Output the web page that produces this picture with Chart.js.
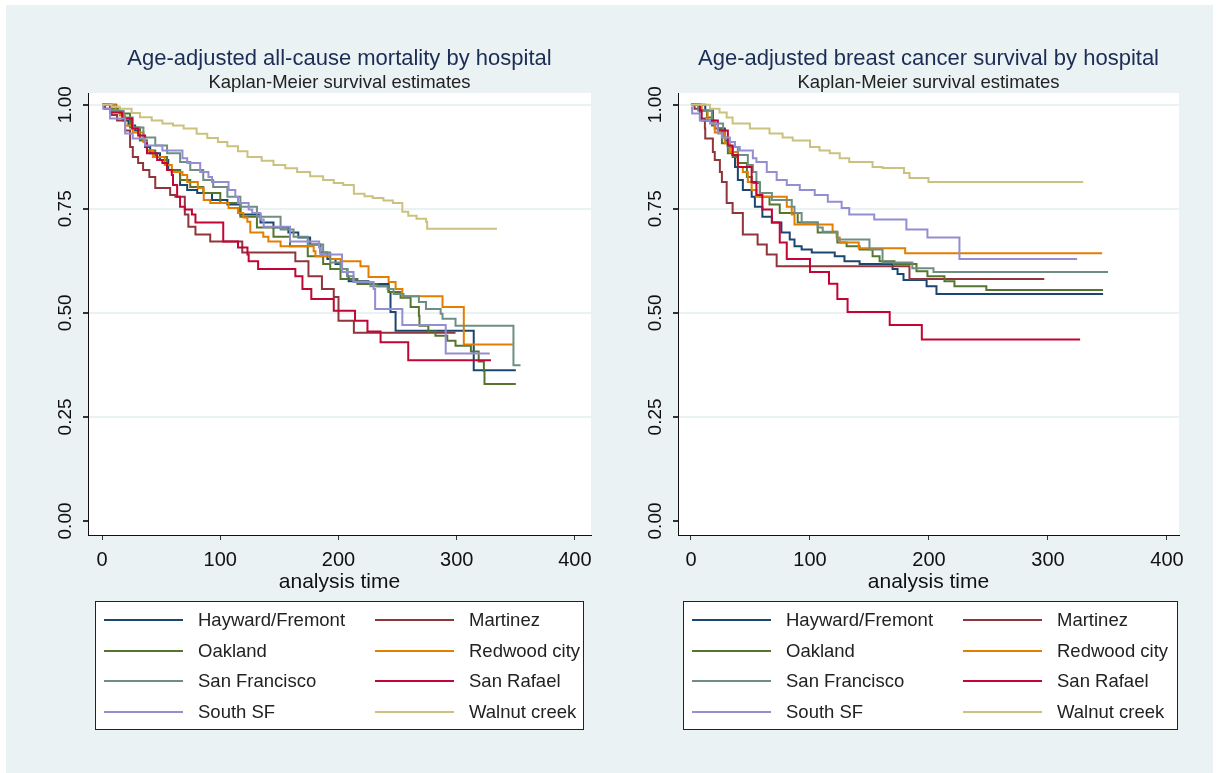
<!DOCTYPE html>
<html>
<head>
<meta charset="utf-8">
<script src="https://cdn.jsdelivr.net/npm/chart.js@4.4.1/dist/chart.umd.min.js"></script>
<style>
  body { margin: 0; background: #ffffff; }
  #bg { position: absolute; left: 6px; top: 5px; width: 1207px; height: 768px; background: #eaf2f3; }
  canvas { position: absolute; top: 5px; }
  #left { left: 6px; }
  #right { left: 611px; }
</style>
</head>
<body>
<div id="bg"></div>
<canvas id="left" width="605" height="768"></canvas>
<canvas id="right" width="602" height="768"></canvas>
<script>
'use strict';

// hospitals, in legend order (row by row, two columns)
const hospitals = ['Hayward/Fremont', 'Martinez', 'Oakland', 'Redwood city',
    'San Francisco', 'San Rafael', 'South SF', 'Walnut creek'];
const hospitalColors = ['#1a476f', '#90353b', '#55752f', '#e37e00',
    '#6e8e84', '#c10534', '#938dd2', '#cac27e'];

const xTicks = [0, 100, 200, 300, 400];
const yTicks = [0, 0.25, 0.5, 0.75, 1];

// all-cause mortality, [analysis time, survival]
const mortHayward = [[0,1],[12,0.985],[18,0.962],[22.3,0.95],[28,0.938],[32,0.918],[36.4,0.898],[40.7,0.883],[49,0.867],[56,0.843],[66,0.807],[72,0.795],[80.5,0.788],[93,0.771],[106,0.76],[117,0.736],[134,0.717],[145,0.705],[157.6,0.693],[166,0.681],[176,0.664],[184.7,0.645],[190.6,0.629],[197.5,0.617],[203,0.605],[207.5,0.588],[208.6,0.576],[225.4,0.569],[242.4,0.55],[244,0.502],[248.3,0.457],[314.4,0.362],[350,0.362]];
const mortMartinez = [[0,1],[2.5,0.99],[8,0.975],[12.7,0.962],[19.5,0.938],[23.7,0.898],[26,0.874],[30.5,0.86],[34.7,0.843],[40,0.826],[45,0.8],[57.6,0.783],[62,0.779],[70,0.736],[73,0.707],[79,0.688],[91.5,0.671],[118.6,0.645],[163.5,0.624],[174.6,0.588],[186,0.557],[196,0.538],[200,0.481],[213,0.452],[299,0.452]];
const mortOakland = [[0,1],[8,0.99],[15,0.979],[23.7,0.945],[32,0.914],[38,0.89],[45,0.874],[55,0.843],[66,0.819],[74.6,0.802],[85.6,0.788],[100,0.764],[117,0.731],[131,0.705],[145,0.683],[159,0.66],[174,0.636],[187,0.617],[193,0.605],[201.7,0.581],[216,0.569],[233,0.564],[242.4,0.55],[252.5,0.536],[261,0.514],[268,0.493],[268.5,0.469],[276,0.455],[282,0.445],[292,0.433],[299,0.421],[312,0.407],[318.6,0.383],[323,0.36],[323.5,0.329],[350,0.329]];
const mortRedwood = [[0,1],[11,1],[11.5,0.986],[15,0.974],[19.5,0.95],[26,0.933],[35,0.91],[38,0.89],[43,0.874],[53,0.855],[59,0.838],[68,0.831],[72,0.814],[81,0.8],[86,0.771],[91.5,0.764],[107,0.752],[115,0.74],[119.5,0.729],[122.9,0.719],[125.4,0.693],[136.4,0.683],[140.7,0.671],[151,0.66],[179,0.648],[180.5,0.636],[193,0.629],[201.7,0.624],[218.6,0.612],[225.4,0.586],[242.4,0.574],[248.3,0.557],[254,0.54],[288,0.514],[306,0.424],[347.5,0.424]];
const mortSF = [[0,1],[8,0.985],[18,0.969],[26,0.945],[35,0.921],[45,0.902],[55,0.883],[66,0.862],[74.6,0.843],[85.6,0.819],[94,0.802],[106,0.779],[117,0.755],[131,0.731],[151,0.7],[162,0.683],[174,0.664],[187,0.645],[193,0.621],[201.7,0.605],[207.5,0.588],[212.7,0.574],[227,0.564],[241.5,0.557],[246.6,0.545],[255,0.54],[268,0.526],[274,0.509],[286.4,0.498],[288,0.486],[299,0.469],[348,0.374],[354,0.374]];
const mortSanRafael = [[0,1],[6.8,0.981],[17,0.967],[25.4,0.943],[30.5,0.926],[36.4,0.907],[38,0.883],[46.6,0.867],[51,0.86],[55,0.843],[59,0.831],[60,0.807],[63.5,0.779],[66,0.755],[70,0.748],[76,0.736],[79,0.717],[102.5,0.671],[115,0.657],[123,0.64],[124,0.624],[132,0.605],[163.5,0.588],[169.5,0.557],[177,0.533],[196,0.505],[214,0.481],[224.5,0.455],[235.6,0.429],[259,0.386],[329,0.386]];
const mortSouthSF = [[0,1],[1,0.99],[6.8,0.967],[19.5,0.931],[26,0.919],[36.4,0.902],[51,0.89],[68,0.871],[72,0.86],[83,0.838],[90,0.826],[93,0.814],[107,0.795],[112.7,0.779],[115,0.764],[124,0.748],[127,0.74],[134,0.724],[136.7,0.707],[159,0.671],[183.6,0.657],[184.7,0.64],[203,0.598],[212.7,0.574],[229.7,0.557],[231,0.509],[254,0.471],[290.7,0.402],[328,0.402]];
const mortWalnut = [[0,1],[8,0.995],[15,0.99],[25,0.98],[32,0.97],[42,0.962],[51,0.955],[60,0.95],[69,0.943],[80,0.93],[89,0.92],[98,0.91],[106,0.9],[115,0.888],[123,0.874],[135,0.865],[145,0.855],[155,0.847],[165,0.838],[176,0.828],[187,0.819],[196,0.812],[204,0.807],[213,0.786],[222,0.78],[229,0.776],[238,0.77],[246,0.764],[254,0.743],[259,0.733],[266,0.726],[274,0.719],[275,0.702],[334,0.702]];

// breast cancer survival, [analysis time, survival]
const cancHayward = [[0,1],[11.7,1],[12,0.986],[18.4,0.955],[22.6,0.943],[28.5,0.914],[31,0.898],[35,0.879],[37,0.85],[39.4,0.819],[43.6,0.795],[51,0.779],[53.7,0.755],[60,0.731],[68,0.717],[76,0.693],[83,0.676],[87,0.66],[93,0.652],[101.5,0.645],[120.8,0.636],[129,0.624],[141.7,0.617],[169.4,0.605],[173.6,0.593],[178.6,0.579],[198,0.564],[206.3,0.545],[346.3,0.545]];
const cancMartinez = [[0,1],[3,0.99],[7.5,0.967],[11.7,0.943],[12,0.919],[18.4,0.886],[20,0.867],[24.3,0.838],[26,0.814],[30,0.764],[35,0.74],[43.6,0.688],[56,0.664],[63.7,0.64],[72,0.612],[183.6,0.581],[296.9,0.581]];
const cancOakland = [[0,1],[7.5,0.986],[13.4,0.969],[17.6,0.95],[20,0.943],[26,0.907],[31,0.883],[35,0.874],[39.4,0.86],[47,0.826],[51,0.812],[57.9,0.779],[66,0.76],[74.6,0.74],[89.7,0.717],[106.5,0.693],[123,0.669],[130.8,0.66],[141.7,0.652],[152.6,0.636],[158.5,0.624],[171,0.617],[189.5,0.6],[198.7,0.588],[213,0.576],[221.4,0.564],[248.2,0.555],[346.3,0.555]];
const cancRedwood = [[0,1],[7.5,1],[9,0.986],[14,0.962],[20,0.933],[28.5,0.907],[32.7,0.886],[39.4,0.85],[43.6,0.838],[47.8,0.814],[51,0.795],[55,0.779],[80.5,0.755],[84.7,0.736],[87,0.712],[119,0.695],[122.4,0.681],[125,0.669],[141,0.655],[180,0.643],[345.5,0.643]];
const cancSF = [[0,1],[6,0.986],[17.6,0.955],[27,0.921],[31,0.898],[39.4,0.879],[47.8,0.855],[52,0.838],[55,0.814],[57.9,0.788],[68,0.771],[84.7,0.755],[87,0.74],[93,0.717],[106.5,0.705],[110.7,0.695],[123,0.676],[150,0.652],[161,0.621],[186,0.607],[203.8,0.598],[350.5,0.598]];
const cancSanRafael = [[0,1],[7.5,0.986],[9,0.962],[22.6,0.938],[31,0.902],[35,0.879],[39.4,0.85],[51,0.814],[55,0.783],[60,0.748],[68,0.717],[74.6,0.669],[80.5,0.629],[100,0.598],[116,0.57],[123,0.533],[131.6,0.502],[167,0.471],[194,0.436],[327,0.436]];
const cancSouthSF = [[0,0.993],[1,0.979],[7.5,0.962],[16,0.955],[22.6,0.931],[26,0.921],[32.7,0.91],[37,0.898],[41,0.89],[52,0.871],[55,0.862],[63.7,0.838],[72,0.819],[80.5,0.807],[91.4,0.795],[104,0.783],[115,0.767],[126.6,0.752],[133,0.736],[154,0.724],[181,0.7],[198.7,0.681],[225.6,0.629],[324.5,0.629]];
const cancWalnut = [[0,1],[16,0.99],[24,0.981],[30,0.969],[35,0.955],[49.5,0.943],[66,0.931],[77,0.921],[85.5,0.914],[100,0.898],[108,0.89],[116.6,0.883],[125,0.871],[133,0.862],[152.6,0.85],[161,0.848],[179,0.836],[183.6,0.824],[199.6,0.814],[329.6,0.814]];

const FONT = '"Liberation Sans", Arial, sans-serif';
Chart.defaults.font.family = FONT;

// white plot region behind the grid, titles above it and the boxed legend below
const stataDecor = {
    id: 'stataDecor',
    beforeDraw(chart) {
        const a = chart.chartArea;
        const ctx = chart.ctx;
        ctx.save();
        ctx.fillStyle = '#ffffff';
        ctx.fillRect(a.left, a.top, a.right - a.left, a.bottom - a.top);
        ctx.restore();
    },
    afterDraw(chart, args, opts) {
        const a = chart.chartArea;
        const ctx = chart.ctx;
        const cx = (a.left + a.right) / 2;
        ctx.save();
        ctx.textAlign = 'center';
        ctx.textBaseline = 'alphabetic';
        ctx.fillStyle = '#1c2d55';
        ctx.font = '22px ' + FONT;
        ctx.fillText(opts.title, cx, a.top - 28);
        ctx.fillStyle = '#222222';
        ctx.font = '18.5px ' + FONT;
        ctx.fillText(opts.subtitle, cx, a.top - 5);

        // legend
        const bl = a.left + opts.legendLeft, br = a.right - opts.legendRight;
        const bt = a.bottom + 66, bb = a.bottom + 194;
        ctx.fillStyle = '#ffffff';
        ctx.fillRect(bl, bt, br - bl, bb - bt);
        ctx.strokeStyle = '#222222';
        ctx.lineWidth = 1;
        ctx.strokeRect(Math.round(bl) + 0.5, Math.round(bt) + 0.5, Math.round(br - bl), Math.round(bb - bt));
        ctx.textAlign = 'left';
        ctx.textBaseline = 'middle';
        ctx.font = '18.5px ' + FONT;
        chart.data.datasets.forEach((ds, i) => {
            const row = Math.floor(i / 2), col = i % 2;
            const y = Math.round(bt + 19 + row * 30.5);
            const x0 = bl + (col ? 280 : 9);
            ctx.strokeStyle = ds.borderColor;
            ctx.lineWidth = 2;
            ctx.beginPath();
            ctx.moveTo(x0, y);
            ctx.lineTo(x0 + 79, y);
            ctx.stroke();
            ctx.fillStyle = '#222222';
            ctx.fillText(ds.label, x0 + 94, y + 1);
        });
        ctx.restore();
    }
};

function makeChart(canvasId, series, cfg) {
    const datasets = series.map((pts, i) => ({
        label: hospitals[i],
        data: pts.map(p => ({x: p[0], y: p[1]})),
        borderColor: hospitalColors[i],
        borderWidth: 2,
        pointRadius: 0,
        stepped: true,
        fill: false,
        order: series.length - i
    }));

    return new Chart(document.getElementById(canvasId).getContext('2d'), {
        type: 'line',
        data: {datasets: datasets},
        plugins: [stataDecor],
        options: {
            responsive: false,
            animation: false,
            events: [],
            layout: {padding: {top: 88, right: cfg.padRight, bottom: 178, left: 0}},
            plugins: {
                legend: {display: false},
                tooltip: {enabled: false},
                stataDecor: {
                    title: cfg.title,
                    subtitle: 'Kaplan-Meier survival estimates',
                    legendLeft: cfg.legendLeft,
                    legendRight: cfg.legendRight
                }
            },
            scales: {
                x: {
                    type: 'linear',
                    min: cfg.xMin,
                    max: cfg.xMax,
                    afterBuildTicks: scale => { scale.ticks = xTicks.map(v => ({value: v})); },
                    afterFit: scale => { scale.height = 60; },
                    grid: {display: true, drawOnChartArea: false, drawTicks: true, tickLength: 5, tickColor: '#333333'},
                    border: {display: true, color: '#111111', width: 1},
                    ticks: {color: '#111111', font: {size: 20}, padding: 8, maxRotation: 0, autoSkip: false},
                    title: {display: true, text: 'analysis time', color: '#111111', font: {size: 21}, padding: {top: 0, bottom: 0}}
                },
                y: {
                    type: 'linear',
                    min: -0.0337,
                    max: 1.028,
                    afterBuildTicks: scale => { scale.ticks = yTicks.map(v => ({value: v})); },
                    afterFit: scale => { scale.width = cfg.yWidth; },
                    grid: {
                        color: c => (c.tick && c.tick.value === 0) ? 'rgba(0,0,0,0)' : '#eaf2f3',
                        lineWidth: 2,
                        drawTicks: true,
                        tickLength: 5,
                        tickColor: '#333333'
                    },
                    border: {display: true, color: '#111111', width: 1},
                    ticks: {
                        color: '#111111',
                        font: {size: 19},
                        minRotation: 90,
                        maxRotation: 90,
                        crossAlign: 'center',
                        padding: -1,
                        callback: v => Number(v).toFixed(2)
                    }
                }
            }
        }
    });
}

makeChart('left',
    [mortHayward, mortMartinez, mortOakland, mortRedwood, mortSF, mortSanRafael, mortSouthSF, mortWalnut],
    {title: 'Age-adjusted all-cause mortality by hospital', xMin: -11.9, xMax: 413.6,
     yWidth: 82, padRight: 20, legendLeft: 7, legendRight: 8});

makeChart('right',
    [cancHayward, cancMartinez, cancOakland, cancRedwood, cancSF, cancSanRafael, cancSouthSF, cancWalnut],
    {title: 'Age-adjusted breast cancer survival by hospital', xMin: -10.9, xMax: 410.1,
     yWidth: 67, padRight: 34, legendLeft: 5, legendRight: 2});
</script>
</body>
</html>
